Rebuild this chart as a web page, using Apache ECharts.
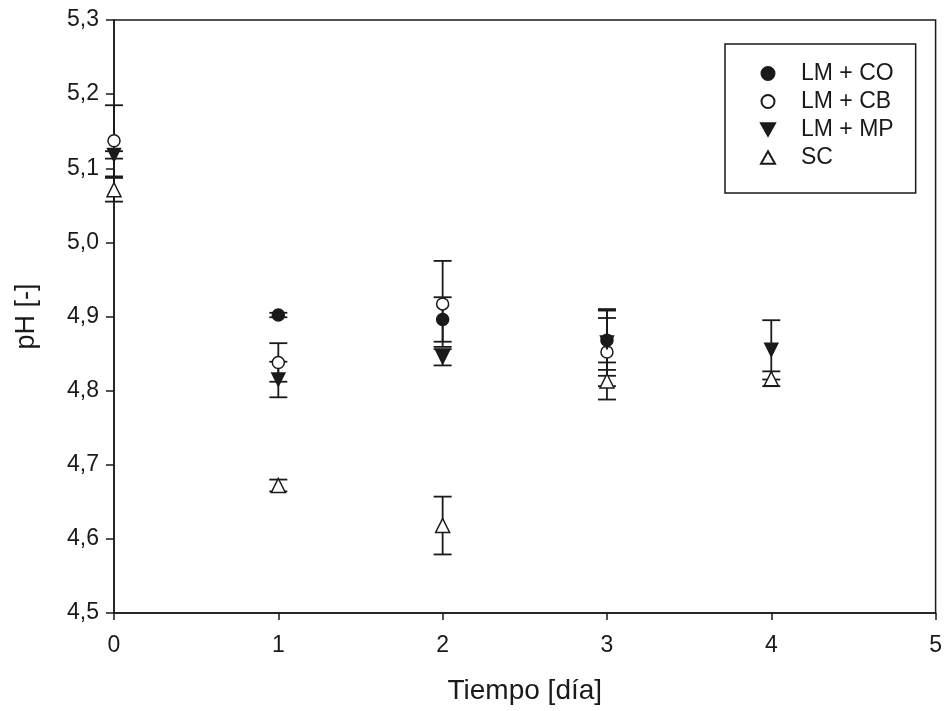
<!DOCTYPE html>
<html>
<head>
<meta charset="utf-8">
<script src="https://cdn.jsdelivr.net/npm/echarts@6/dist/echarts.min.js"></script>
<style>
  html, body { margin: 0; padding: 0; background: #fff; }
  #chart { width: 945px; height: 711px; }
</style>
</head>
<body>
<div id="chart"></div>
<script>
// days of measurement
const days = [0, 1, 2, 3, 4];

// mean pH per series (null = no point)
const coValues = [null, 4.902, 4.896, 4.868, null];
const cbValues = [5.137, 4.838, 4.917, 4.852, null];
const mpValues = [5.118, 4.815, 4.845, 4.865, 4.855];
const scValues = [5.071, 4.672, 4.618, 4.813, 4.816];

// standard deviations
const coErrors = [null, 0.003, 0.030, 0.040, null];
const cbErrors = [0.048, 0.026, 0.058, 0.046, null];
const mpErrors = [0.005, 0.024, 0.011, 0.045, 0.040];
const scErrors = [0.016, 0.008, 0.039, 0.025, 0.010];

const yTicks = [4.5, 4.6, 4.7, 4.8, 4.9, 5.0, 5.1, 5.2, 5.3];
const xTicks = [0, 1, 2, 3, 4, 5];

const FONT = 'Liberation Sans, Arial, sans-serif';
const INK = '#1a1a1a';
const TRI_DOWN = 'path://M0,0 L10,0 L5,9 Z';
const TRI_UP = 'path://M5,0 L10,9 L0,9 Z';

const toPoints = (vals) => days.map((d, i) => vals[i] == null ? null : [d, vals[i]]).filter(Boolean);
const toBars = (vals, errs) => days
  .map((d, i) => vals[i] == null ? null : [d, vals[i] - errs[i], vals[i] + errs[i]])
  .filter(Boolean);

function renderErrorBar(params, api) {
  const x = api.value(0);
  const lo = api.coord([x, api.value(1)]);
  const hi = api.coord([x, api.value(2)]);
  const w = 9;
  const style = { stroke: INK, lineWidth: 1.8 };
  return {
    type: 'group',
    children: [
      { type: 'line', shape: { x1: lo[0], y1: lo[1], x2: hi[0], y2: hi[1] }, style },
      { type: 'line', shape: { x1: hi[0] - w, y1: hi[1], x2: hi[0] + w, y2: hi[1] }, style },
      { type: 'line', shape: { x1: lo[0] - w, y1: lo[1], x2: lo[0] + w, y2: lo[1] }, style }
    ]
  };
}

const seriesDefs = [
  { name: 'LM + CO', vals: coValues, errs: coErrors, symbol: 'circle', size: 12, fill: INK },
  { name: 'LM + CB', vals: cbValues, errs: cbErrors, symbol: 'circle', size: 12, fill: '#fff' },
  { name: 'LM + MP', vals: mpValues, errs: mpErrors, symbol: TRI_DOWN, size: 13, fill: INK },
  { name: 'SC', vals: scValues, errs: scErrors, symbol: TRI_UP, size: 14, fill: '#fff' }
];

const series = [];
seriesDefs.forEach((s) => {
  series.push({
    type: 'custom',
    name: s.name + ' err',
    renderItem: renderErrorBar,
    data: toBars(s.vals, s.errs),
    z: 2,
    silent: true
  });
});
seriesDefs.forEach((s) => {
  series.push({
    type: 'scatter',
    name: s.name,
    data: toPoints(s.vals),
    symbol: s.symbol,
    symbolSize: s.size,
    itemStyle: { color: s.fill, borderColor: INK, borderWidth: 1.5, opacity: 1 },
    z: 3
  });
});

const chart = echarts.init(document.getElementById('chart'));
chart.setOption({
  backgroundColor: '#fff',
  animation: false,
  grid: {
    left: 114, right: 5, top: 20, bottom: 98,
    show: true, borderColor: INK, borderWidth: 1.5, backgroundColor: 'transparent'
  },
  legend: {
    data: seriesDefs.map((s) => s.name),
    orient: 'vertical',
    left: 725,
    top: 44,
    padding: [18, 22, 24, 35],
    itemGap: 5,
    itemWidth: 14,
    itemHeight: 13,
    borderColor: INK,
    borderWidth: 1.5,
    backgroundColor: '#fff',
    textStyle: { fontFamily: FONT, fontSize: 23, color: INK, padding: [0, 0, 0, 21] }
  },
  xAxis: {
    type: 'value',
    min: xTicks[0],
    max: xTicks[xTicks.length - 1],
    interval: 1,
    name: 'Tiempo [día]',
    nameLocation: 'middle',
    nameGap: 64,
    nameTextStyle: { fontFamily: FONT, fontSize: 28, color: INK },
    axisLine: { show: true, lineStyle: { color: INK, width: 1.5 } },
    axisTick: { show: true, length: 7, inside: false, lineStyle: { color: INK, width: 1.5 } },
    axisLabel: { fontFamily: FONT, fontSize: 23, color: INK, margin: 21 },
    splitLine: { show: false }
  },
  yAxis: {
    type: 'value',
    min: yTicks[0],
    max: yTicks[yTicks.length - 1],
    interval: 0.1,
    name: 'pH [-]',
    nameLocation: 'middle',
    nameGap: 74,
    nameRotate: 90,
    nameTextStyle: { fontFamily: FONT, fontSize: 27, color: INK },
    axisLine: { show: true, lineStyle: { color: INK, width: 1.5 } },
    axisTick: { show: true, length: 8, inside: false, lineStyle: { color: INK, width: 1.5 } },
    axisLabel: {
      fontFamily: FONT, fontSize: 23, color: INK, margin: 15,
      formatter: (v) => v.toFixed(1).replace('.', ',')
    },
    splitLine: { show: false }
  },
  series: series
});
</script>
</body>
</html>
